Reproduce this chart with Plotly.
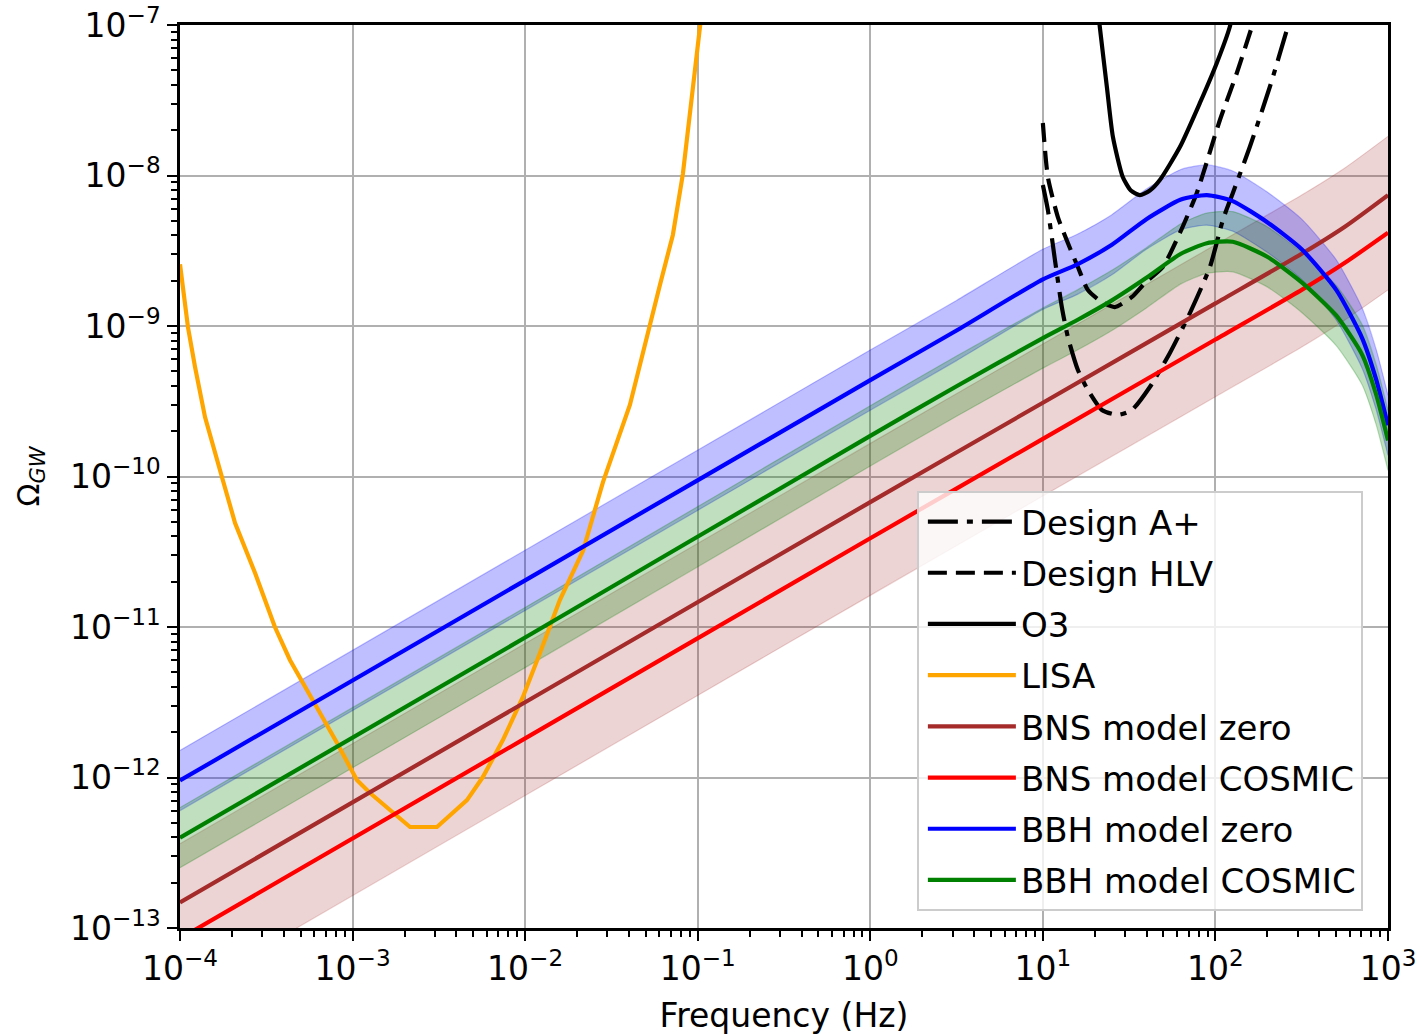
import numpy as np
import plotly.graph_objects as go

# ---- values (log10 of frequency in Hz, log10 of Omega_GW) ----
lisa_logf = [-4.0, -3.954, -3.913, -3.855, -3.757, -3.681, -3.565, -3.450, -3.363, -3.229,
             -3.090, -2.975, -2.899, -2.667, -2.511, -2.337, -2.245, -2.129, -2.013, -1.914,
             -1.799, -1.665, -1.549, -1.393, -1.294, -1.219, -1.144, -1.086, -0.987, -0.975]
lisa_logo = [-8.59, -9.007, -9.272, -9.605, -10.003, -10.309, -10.641, -11.0, -11.219, -11.485,
             -11.771, -12.017, -12.103, -12.329, -12.329, -12.150, -11.997, -11.751, -11.465, -11.173,
             -10.821, -10.495, -10.037, -9.525, -9.060, -8.728, -8.395, -7.990, -7.013, -6.90]

o3_logf = [1.320, 1.330, 1.371, 1.406, 1.463, 1.510, 1.562, 1.620, 1.678, 1.794, 1.910, 2.008, 2.083, 2.095]
o3_logo = [-6.90, -7.013, -7.412, -7.744, -8.010, -8.100, -8.130, -8.100, -8.030, -7.811, -7.518, -7.252, -7.013, -6.95]

hlv_logf = [1.000, 1.029, 1.087, 1.145, 1.203, 1.261, 1.342, 1.417, 1.516, 1.591, 1.695, 1.794,
            1.892, 2.026, 2.124, 2.211, 2.230]
hlv_logo = [-7.651, -8.010, -8.276, -8.449, -8.608, -8.761, -8.841, -8.874, -8.807, -8.714, -8.608,
            -8.382, -8.116, -7.631, -7.319, -7.013, -6.95]

aplus_logf = [1.000, 1.029, 1.070, 1.110, 1.145, 1.203, 1.261, 1.342, 1.434, 1.516, 1.620, 1.736,
              1.852, 1.968, 2.043, 2.101, 2.199, 2.315, 2.419, 2.435]
aplus_logo = [-8.063, -8.229, -8.561, -8.874, -9.073, -9.292, -9.425, -9.558, -9.591, -9.558, -9.405,
              -9.179, -8.914, -8.608, -8.296, -8.116, -7.811, -7.412, -7.013, -6.95]

bns_logf = [-4.0, -2.0, 0.0, 1.0, 2.0, 2.5, 2.75, 3.0]
bns_zero_logo = [-12.83, -11.50, -10.17, -9.51, -8.85, -8.52, -8.34, -8.13]
bns_cosmic_logo = [-13.07, -11.74, -10.41, -9.75, -9.09, -8.76, -8.58, -8.38]
bns_band_hi = [-12.44, -11.11, -9.78, -9.12, -8.46, -8.13, -7.95, -7.74]
bns_band_lo = [-13.45, -12.12, -10.79, -10.13, -9.47, -9.14, -8.96, -8.76]

bbh_logf = [-4.0, -2.0, 0.0, 0.5, 1.0, 1.2, 1.4, 1.6, 1.8, 1.95, 2.1, 2.3, 2.5, 2.7, 2.85, 2.93, 3.0]
bbh_zero_logo = [-12.02, -10.69, -9.36, -9.03, -8.69, -8.59, -8.46, -8.29, -8.16, -8.13, -8.17,
                 -8.31, -8.49, -8.76, -9.08, -9.35, -9.66]
bbh_zero_hi = [-11.82, -10.49, -9.16, -8.83, -8.49, -8.39, -8.26, -8.09, -7.96, -7.93, -7.97,
               -8.11, -8.29, -8.56, -8.88, -9.15, -9.46]
bbh_zero_lo = [-12.22, -10.89, -9.56, -9.23, -8.89, -8.79, -8.66, -8.49, -8.36, -8.33, -8.37,
               -8.51, -8.69, -8.96, -9.28, -9.55, -9.86]
bbh_cosmic_logo = [-12.40, -11.07, -9.73, -9.40, -9.08, -8.96, -8.83, -8.68, -8.52, -8.45, -8.44,
                   -8.54, -8.71, -8.93, -9.19, -9.45, -9.76]
bbh_cosmic_hi = [-12.20, -10.87, -9.53, -9.20, -8.88, -8.76, -8.63, -8.48, -8.32, -8.25, -8.24,
                 -8.34, -8.51, -8.73, -8.99, -9.25, -9.56]
bbh_cosmic_lo = [-12.60, -11.27, -9.93, -9.60, -9.28, -9.16, -9.03, -8.88, -8.72, -8.65, -8.64,
                 -8.74, -8.91, -9.13, -9.39, -9.65, -9.96]

x_tick_exp = [-4, -3, -2, -1, 0, 1, 2, 3]
y_tick_exp = [-13, -12, -11, -10, -9, -8, -7]


def p(v):
    return np.power(10.0, np.array(v, dtype=float))


fig = go.Figure()


def add_band(logf, lo, hi, fill):
    fig.add_trace(go.Scatter(x=p(logf), y=p(lo), mode="lines",
                             line=dict(color=fill, width=1.2, shape="spline", smoothing=0.6),
                             showlegend=False, hoverinfo="skip"))
    fig.add_trace(go.Scatter(x=p(logf), y=p(hi), mode="lines", fill="tonexty", fillcolor=fill,
                             line=dict(color=fill, width=1.2, shape="spline", smoothing=0.6),
                             showlegend=False, hoverinfo="skip"))


add_band(bns_logf, bns_band_lo, bns_band_hi, "rgba(165,42,42,0.2)")
add_band(bbh_logf, bbh_zero_lo, bbh_zero_hi, "rgba(0,0,255,0.25)")
add_band(bbh_logf, bbh_cosmic_lo, bbh_cosmic_hi, "rgba(0,128,0,0.25)")

LW = 4.2
series = [
    ("Design A+", aplus_logf, aplus_logo, "black", "30px,9px,6px,9px", "spline"),
    ("Design HLV", hlv_logf, hlv_logo, "black", "19px,9px", "spline"),
    ("O3", o3_logf, o3_logo, "black", "solid", "spline"),
    ("LISA", lisa_logf, lisa_logo, "orange", "solid", "linear"),
    ("BNS model zero", bns_logf, bns_zero_logo, "brown", "solid", "spline"),
    ("BNS model COSMIC", bns_logf, bns_cosmic_logo, "red", "solid", "spline"),
    ("BBH model zero", bbh_logf, bbh_zero_logo, "blue", "solid", "spline"),
    ("BBH model COSMIC", bbh_logf, bbh_cosmic_logo, "green", "solid", "spline"),
]
for name, lf, lo, col, dash, shape in series:
    fig.add_trace(go.Scatter(x=p(lf), y=p(lo), mode="lines", name=name, legendgroup=name,
                             line=dict(color=col, width=LW, dash=dash, shape=shape, smoothing=0.6)))

axis_common = dict(
    type="log", showgrid=True, gridcolor="#b0b0b0", gridwidth=2,
    showline=True, linecolor="black", linewidth=2.5, mirror=True,
    ticks="outside", ticklen=10, tickwidth=2, tickcolor="black",
    minor=dict(ticks="outside", ticklen=6, tickwidth=1.5, tickcolor="black", showgrid=False, dtick="D1"),
    tickfont=dict(size=33, color="black"), zeroline=False, automargin=False,
)

fig.update_xaxes(**axis_common, range=[-4, 3],
                 tickvals=[10.0 ** e for e in x_tick_exp],
                 ticktext=["10<sup>%s</sup>" % (str(e).replace("-", "\u2212")) for e in x_tick_exp],
                 title=dict(text="Frequency (Hz)", font=dict(size=33), standoff=18))
fig.update_yaxes(**axis_common, range=[-13, -7],
                 tickvals=[10.0 ** e for e in y_tick_exp],
                 ticktext=["10<sup>%s</sup>" % (str(e).replace("-", "\u2212")) for e in y_tick_exp],
                 title=dict(text="\u03a9<sub><i>GW</i></sub>", font=dict(size=30), standoff=22))

fig.update_layout(
    width=1423, height=1035,
    margin=dict(l=180, r=35, t=25, b=107),
    plot_bgcolor="white", paper_bgcolor="white",
    font=dict(family="DejaVu Sans", size=33, color="black"),
    legend=dict(x=0.61, y=0.484, xanchor="left", yanchor="top",
                bgcolor="rgba(255,255,255,0.8)", bordercolor="#cccccc", borderwidth=2,
                font=dict(size=34), tracegroupgap=4, itemwidth=88, indentation=4),
)

fig.write_html("out.html")
